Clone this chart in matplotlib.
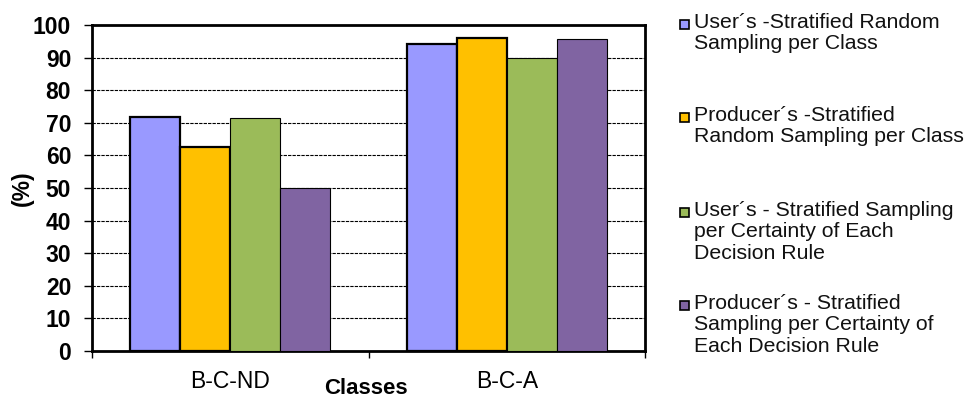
import matplotlib
matplotlib.use("Agg")
import matplotlib.pyplot as plt
from matplotlib.patches import Rectangle
import numpy as np

plt.rcParams['font.family'] = ['Liberation Sans', 'DejaVu Sans']

classes = ['B-C-ND', 'B-C-A']
series_labels = [
    "User\u00b4s -Stratified Random\nSampling per Class",
    "Producer\u00b4s -Stratified\nRandom Sampling per Class",
    "User\u00b4s - Stratified Sampling\nper Certainty of Each\nDecision Rule",
    "Producer\u00b4s - Stratified\nSampling per Certainty of\nEach Decision Rule",
]
users_random = [71.7, 94.1]
producers_random = [62.7, 96.0]
users_certainty = [71.6, 90.0]
producers_certainty = [50.1, 95.8]
y_ticks = [0, 10, 20, 30, 40, 50, 60, 70, 80, 90, 100]

series = [users_random, producers_random, users_certainty, producers_certainty]
colors = ['#9999FF', '#FFC000', '#9BBB59', '#8064A2']
edge_w = [1.6, 1.6, 0.8, 0.8]

fig = plt.figure(figsize=(9.68, 4.0), dpi=100)
ax = fig.add_axes([92 / 968, 1 - 351 / 400, 553 / 968, 326 / 400])

x = np.arange(len(classes))
w = 0.181
for i, vals in enumerate(series):
    ax.bar(x + (i - 1.5) * w, vals, width=w, color=colors[i],
           edgecolor='black', linewidth=edge_w[i], zorder=3)

ax.set_xlim(-0.5, 1.5)
ax.set_ylim(0, 100)
ax.set_yticks(y_ticks)
ax.set_yticklabels([str(t) for t in y_ticks], fontsize=16.5, fontweight='bold')
for t in y_ticks[1:-1]:
    ax.axhline(t, color='black', linestyle=(0, (3, 1)), linewidth=0.8, zorder=1)

ax.set_xticks([-0.5, 0.5, 1.5])
ax.set_xticklabels([])
ax.set_xticks(x, minor=True)
ax.set_xticklabels(classes, minor=True, fontsize=16.5)
ax.tick_params(axis='x', which='minor', length=0, pad=14)
ax.tick_params(axis='x', which='major', length=5, width=1, direction='out')
ax.tick_params(axis='y', length=6, width=1, pad=9)

for s in ax.spines.values():
    s.set_linewidth(2)
    s.set_color('black')

fig.text(22 / 968, 1 - 188 / 400, '(%)', rotation=90, fontsize=16.5,
         fontweight='bold', ha='center', va='center')
fig.text(366 / 968, 1 - 399 / 400, 'Classes', fontsize=16,
         fontweight='bold', ha='center', va='bottom')

# legend drawn by hand so that each entry starts at a fixed height
entry_y = [25, 118, 213, 306]
for lab, c, yy in zip(series_labels, colors, entry_y):
    fig.patches.append(Rectangle((680 / 968, 1 - (yy + 4) / 400), 9 / 968, 9 / 400,
                                 transform=fig.transFigure, facecolor=c,
                                 edgecolor='black', linewidth=1.2))
    fig.text(694 / 968, 1 - (yy - 12) / 400, lab, fontsize=15.3, ha='left',
             va='top', linespacing=1.16, color='#111111')

fig.savefig('out.png', dpi=100)
